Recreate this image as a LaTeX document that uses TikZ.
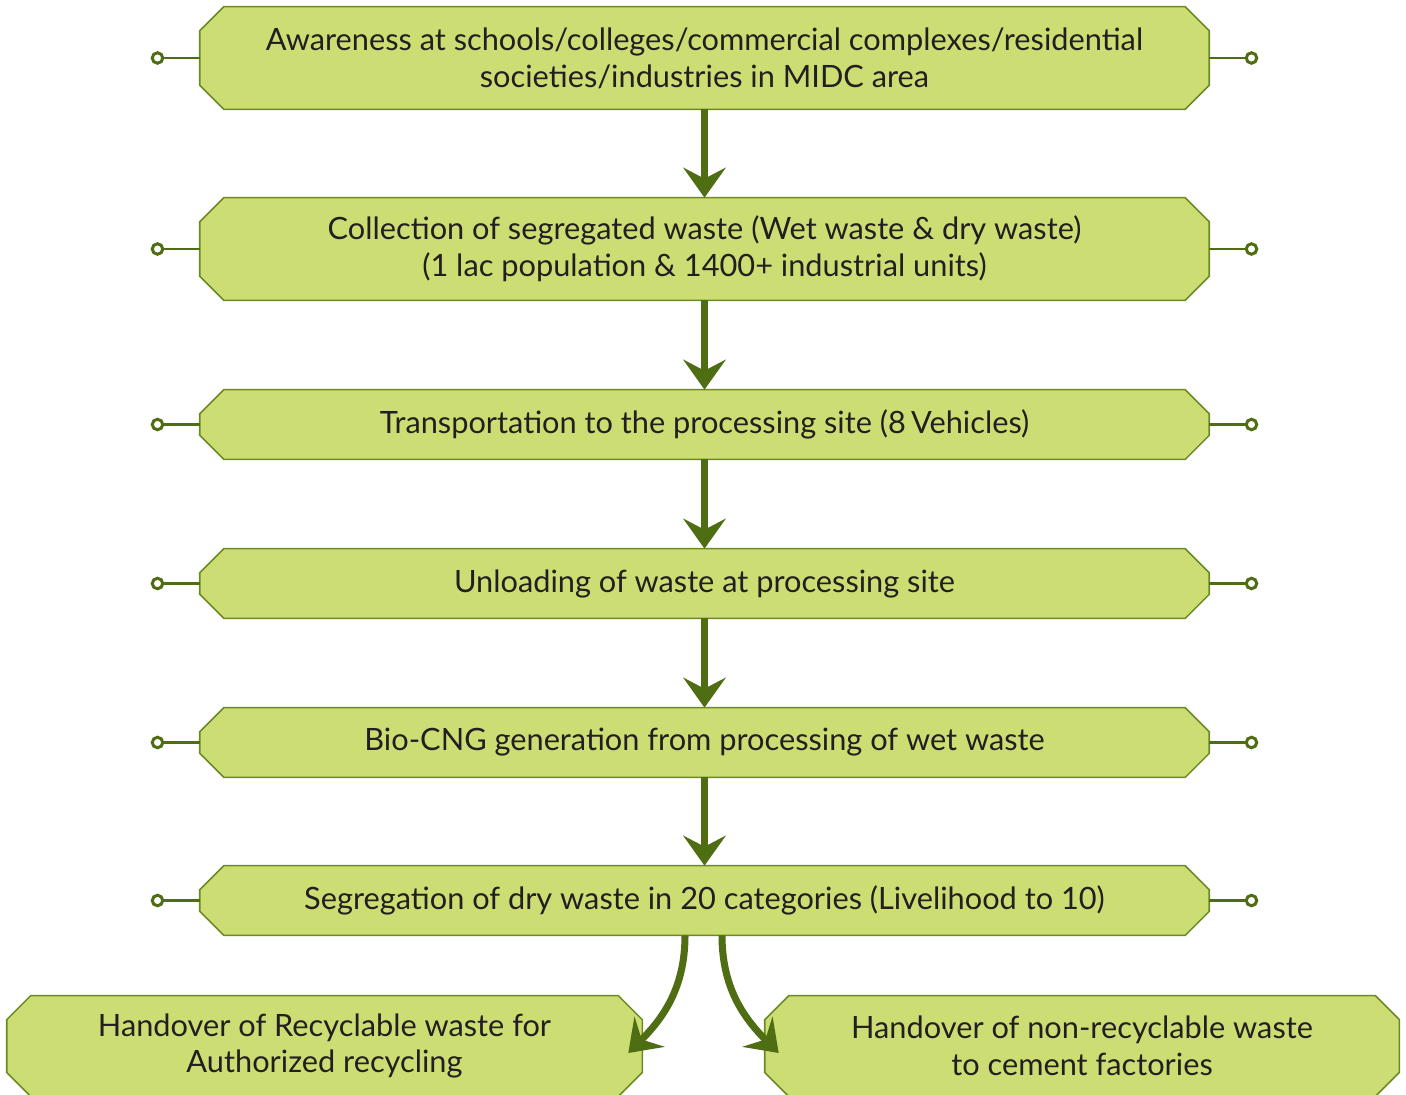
\documentclass[tikz,border=0pt]{standalone}
\usepackage{fontspec}
\setmainfont{Lato}
\usetikzlibrary{arrows.meta,backgrounds}
\definecolor{boxfill}{RGB}{204,222,115}
\definecolor{boxline}{RGB}{108,138,36}
\definecolor{arrowgreen}{RGB}{79,110,20}
\definecolor{textdark}{RGB}{35,31,32}
\tikzset{
  stepbox/.style={rectangle, minimum width=20.18cm, text=textdark, align=center,
    font=\fontsize{17.5}{21}\selectfont, inner sep=0pt},
  cutbox/.style={draw=boxline, fill=boxfill, line width=0.9pt, line join=miter},
  flow/.style={draw=arrowgreen, line width=4pt,
    -{Stealth[length=0.6cm, width=0.85cm, inset=0.22cm]}},
  pin/.style={draw=arrowgreen, line width=1.7pt,
    -{Circle[open, length=0.27cm, width=0.27cm, fill=white]}}
}
% chamfered outline behind a node
\newcommand{\cutcorners}[1]{%
  \draw[cutbox] ([xshift=0.48cm]#1.north west) -- ([xshift=-0.48cm]#1.north east)
    -- ([yshift=-0.48cm]#1.north east) -- ([yshift=0.48cm]#1.south east)
    -- ([xshift=-0.48cm]#1.south east) -- ([xshift=0.48cm]#1.south west)
    -- ([yshift=0.48cm]#1.south west) -- ([yshift=-0.48cm]#1.north west) -- cycle;}
\begin{document}
\begin{tikzpicture}[x=0.02cm,y=-0.02cm]
\useasboundingbox (0,0) rectangle (1406,1095);
% process steps
\node[stepbox, minimum height=2.04cm] (aware) at (704.5,58)
  {Awareness at schools/colleges/commercial complexes/residential\\societies/industries in MIDC area};
\node[stepbox, minimum height=2.04cm] (collect) at (704.5,249)
  {Collection of segregated waste (Wet waste \& dry waste)\\(1 lac population \& 1400+ industrial units)};
\node[stepbox, minimum height=1.38cm] (transport) at (704.5,424.5)
  {Transportation to the processing site (8\,Vehicles)};
\node[stepbox, minimum height=1.38cm] (unload) at (704.5,583.5)
  {Unloading of waste at processing site};
\node[stepbox, minimum height=1.38cm] (biocng) at (704.5,742.5)
  {Bio-CNG generation from processing of wet waste};
\node[stepbox, minimum height=1.38cm] (segregate) at (704.5,900.5)
  {Segregation of dry waste in 20 categories (Livelihood to 10)};
% handover
\node[stepbox, minimum width=12.7cm, minimum height=2.0cm] (recycle) at (324.5,1046)
  {Handover of Recyclable waste for\\Authorized recycling};
\node[stepbox, minimum width=12.68cm, minimum height=2.0cm] (cement) at (1082,1046)
  {Handover of non-recyclable waste\\to cement factories};

\begin{scope}[on background layer]
\foreach \n in {aware,collect,transport,unload,biocng,segregate,recycle,cement}
  {\cutcorners{\n}}
\end{scope}

% arrows
\draw[flow] (aware) -- (collect);
\draw[flow] (collect) -- (transport);
\draw[flow] (transport) -- (unload);
\draw[flow] (unload) -- (biocng);
\draw[flow] (biocng) -- (segregate);
\draw[flow] (segregate.south -| 685,0) to[out=-90, in=45] ([shift={(-14,7)}]recycle.east);
\draw[flow] (segregate.south -| 722,0) to[out=-90, in=135] ([shift={(14,7)}]cement.west);

% side pins
\foreach \n in {aware,collect,transport,unload,biocng,segregate}{
  \draw[pin] (\n.west) -- ++(-49,0);
  \draw[pin] (\n.east) -- ++(49,0);
}
\end{tikzpicture}
\end{document}
